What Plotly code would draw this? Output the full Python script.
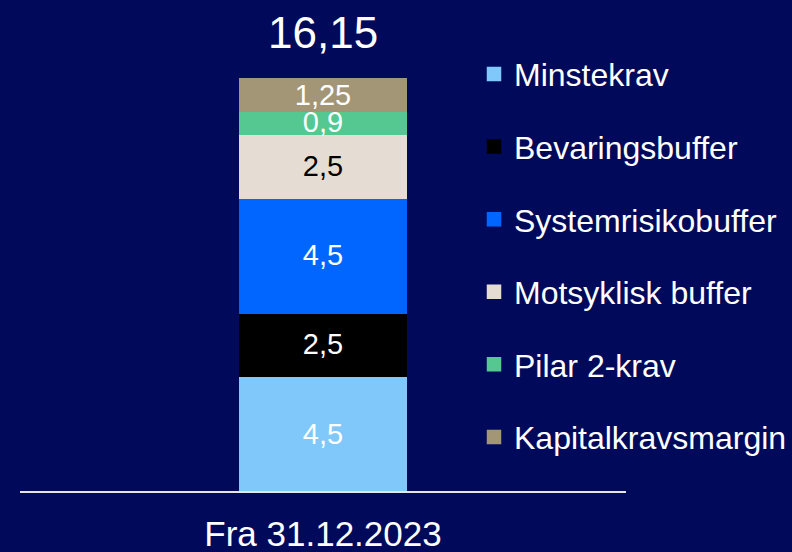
import plotly.graph_objects as go

# Capital requirement components (percent), bottom to top of the stack
category = ["Fra 31.12.2023"]
series_names = ["Minstekrav", "Bevaringsbuffer", "Systemrisikobuffer",
                "Motsyklisk buffer", "Pilar 2-krav", "Kapitalkravsmargin"]
series_values = [4.5, 2.5, 4.5, 2.5, 0.9, 1.25]
value_labels = ["4,5", "2,5", "4,5", "2,5", "0,9", "1,25"]
total_label = "16,15"

colors = ["#80C8FA", "#000000", "#0066FF", "#E5DDD3", "#55C891", "#A39677"]
label_colors = ["white", "white", "white", "black", "white", "white"]
bg = "#010A5A"
font_family = "Liberation Sans, Arial, sans-serif"

fig = go.Figure()
for i, (name, val) in enumerate(zip(series_names, series_values)):
    fig.add_trace(go.Bar(
        x=category, y=[val], name=name,
        # same-colour outline gives slightly larger legend swatches
        marker=dict(color=colors[i], line=dict(width=2.5, color=colors[i])),
        text=[value_labels[i]], textposition="inside", insidetextanchor="middle",
        textfont=dict(size=29, color=label_colors[i], family=font_family),
        constraintext="none", cliponaxis=False,
        width=0.273, legendgroup=name,
    ))

total = sum(series_values)
fig.add_annotation(x=category[0], y=total, text=total_label, showarrow=False,
                   yanchor="bottom", yshift=20,
                   font=dict(size=44, color="white", family=font_family))

fig.update_layout(
    width=792, height=552,
    barmode="stack",
    paper_bgcolor=bg, plot_bgcolor=bg,
    margin=dict(l=20, r=165, t=0, b=61),
    font=dict(family=font_family, color="white"),
    showlegend=True,
    legend=dict(
        x=0.749, xanchor="left", y=0.905, yanchor="top",
        traceorder="grouped", tracegroupgap=28,
        font=dict(size=32, color="white", family=font_family),
        bgcolor="rgba(0,0,0,0)", itemclick=False,
    ),
    xaxis=dict(
        range=[-0.5, 0.5], showline=True, linecolor="#E6E6E6", linewidth=2,
        showgrid=False, zeroline=False, automargin=False,
        ticks="outside", ticklen=11, tickcolor="rgba(0,0,0,0)",
        tickfont=dict(size=35, color="white", family=font_family),
    ),
    yaxis=dict(range=[0, 19.25], visible=False, showgrid=False, zeroline=False,
               automargin=False),
)

fig.write_html("out.html")
